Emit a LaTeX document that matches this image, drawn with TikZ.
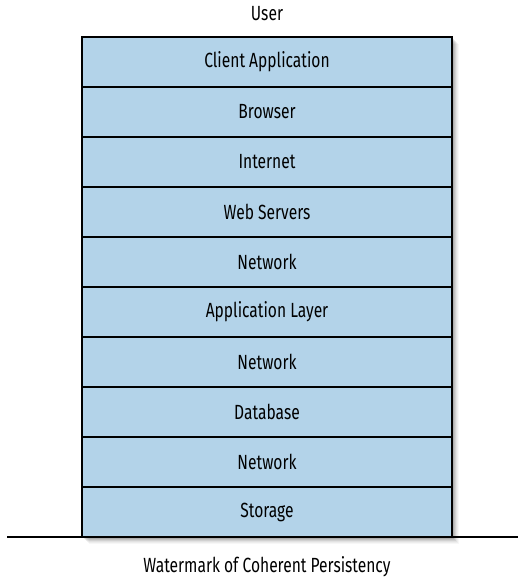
\documentclass[tikz,border=0pt]{standalone}
\usepackage{fontspec}
\setmainfont{Fira Sans}[FakeStretch=0.76]
\definecolor{layerblue}{HTML}{B3D3E9}
\begin{document}
\begin{tikzpicture}[x=1pt,y=-1pt,
  layer/.style={draw=black, line width=1.4pt, fill=layerblue, minimum width=370pt, minimum height=50pt, inner sep=0pt, outer sep=0pt, anchor=north, font=\fontsize{20.5}{24}\selectfont},
  lbl/.style={font=\fontsize{20.5}{24}\selectfont, inner sep=0pt}]
\useasboundingbox (0,0) rectangle (518,580);
% soft shadow
\foreach \i/\o in {1/0.10,2/0.08,3/0.07,4/0.05,5/0.04,6/0.03}{
  \fill[black, opacity=\o] (82+\i+1,37+\i+1) rectangle (452+\i+1,537+\i+1);
}
\node[lbl] (user) at (267,14) {User};
\node[layer] (l1) at (267,37) {Client Application};
\node[layer] (l2) at (l1.south) {Browser};
\node[layer] (l3) at (l2.south) {Internet};
\node[layer] (l4) at (l3.south) {Web Servers};
\node[layer] (l5) at (l4.south) {Network};
\node[layer] (l6) at (l5.south) {Application Layer};
\node[layer] (l7) at (l6.south) {Network};
\node[layer] (l8) at (l7.south) {Database};
\node[layer] (l9) at (l8.south) {Network};
\node[layer] (l10) at (l9.south) {Storage};
\draw[line width=2pt] (l1.north west) rectangle (l10.south east);
\coordinate (gl) at (7,537);
\coordinate (gr) at (518,537);
\draw[line width=1.5pt] (gl) -- (gr);
\node[lbl] (wm) at (267,567) {Watermark of Coherent Persistency};
\end{tikzpicture}
\end{document}
